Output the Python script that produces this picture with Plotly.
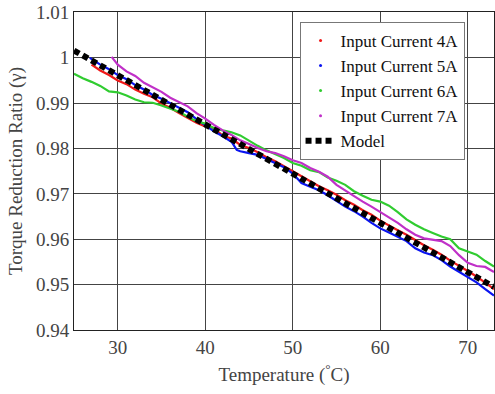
import plotly.graph_objects as go

# ---- data ----
model_T = [25, 30, 35, 40, 45, 50, 55, 60, 65, 70, 73]
model_V = [1.0016, 0.9962, 0.9908, 0.9853, 0.9799, 0.9745, 0.9691, 0.9637, 0.9582, 0.9528, 0.9495]

red_T = [27, 28, 29, 30, 31, 32, 33, 34, 35, 36, 37, 38, 39, 40, 41, 42, 43, 44, 45, 46, 47, 48, 49, 50,
         51, 52, 53, 54, 55, 56, 57, 58, 59, 60, 61, 62, 63, 64, 65, 66, 67, 68, 69, 70, 71, 72, 73]
red_V = [0.9985, 0.9972, 0.9962, 0.9950, 0.9942, 0.9930, 0.9921, 0.9913, 0.9899, 0.9890, 0.9878, 0.9868,
         0.9857, 0.9849, 0.9845, 0.9828, 0.9822, 0.9808, 0.9801, 0.9792, 0.9781, 0.9772, 0.9761, 0.9750,
         0.9738, 0.9728, 0.9717, 0.9708, 0.9698, 0.9686, 0.9676, 0.9664, 0.9654, 0.9641, 0.9630, 0.9620,
         0.9610, 0.9598, 0.9587, 0.9577, 0.9566, 0.9553, 0.9542, 0.9530, 0.9518, 0.9505, 0.9490]

blue_T = [26.8, 28, 29, 30, 31, 32, 33, 34, 35, 36, 37, 38, 39, 40, 41, 42, 43, 43.6, 44, 45, 46, 47, 48,
          49, 50, 51, 52, 53, 54, 55, 56, 57, 58, 59, 60, 61, 62, 63, 64, 65, 66, 67, 68, 69, 70, 71, 72, 73]
blue_V = [1.0000, 0.9985, 0.9975, 0.9962, 0.9953, 0.9940, 0.9930, 0.9918, 0.9910, 0.9900, 0.9890, 0.9880,
          0.9865, 0.9852, 0.9838, 0.9827, 0.9815, 0.9797, 0.9794, 0.9790, 0.9786, 0.9777, 0.9768, 0.9759,
          0.9745, 0.9724, 0.9716, 0.9708, 0.9697, 0.9684, 0.9672, 0.9662, 0.9650, 0.9636, 0.9624, 0.9615,
          0.9605, 0.9596, 0.9580, 0.9571, 0.9565, 0.9554, 0.9540, 0.9528, 0.9517, 0.9505, 0.9490, 0.9476]

green_T = [25, 26, 27, 28, 29, 30, 31, 32, 33, 34, 35, 36, 37, 38, 39, 40, 41, 42, 43, 44, 45, 46, 47, 48,
           49, 50, 51, 52, 53, 54, 55, 56, 57, 58, 59, 60, 61, 62, 63, 64, 65, 66, 67, 68, 69, 70, 71, 72, 73]
green_V = [0.9965, 0.9955, 0.9947, 0.9938, 0.9926, 0.9924, 0.9917, 0.9908, 0.9902, 0.9901, 0.9895, 0.9888,
           0.9881, 0.9870, 0.9860, 0.9855, 0.9845, 0.9840, 0.9836, 0.9829, 0.9817, 0.9806, 0.9796, 0.9787,
           0.9779, 0.9768, 0.9762, 0.9752, 0.9748, 0.9736, 0.9729, 0.9720, 0.9706, 0.9696, 0.9687, 0.9683,
           0.9674, 0.9660, 0.9644, 0.9632, 0.9622, 0.9614, 0.9606, 0.9600, 0.9580, 0.9573, 0.9566, 0.9552,
           0.9540]

mag_T = [29.3, 30, 31, 32, 33, 34, 35, 36, 37, 38, 39, 40, 41, 42, 43, 44, 45, 46, 47, 48, 49, 50, 51, 52,
         53, 54, 55, 56, 57, 58, 59, 60, 61, 62, 63, 64, 65, 66, 67, 68, 69, 70, 71, 72, 73]
mag_V = [1.0002, 0.9985, 0.9970, 0.9960, 0.9945, 0.9935, 0.9925, 0.9912, 0.9903, 0.9893, 0.9878, 0.9866,
         0.9852, 0.9840, 0.9830, 0.9818, 0.9810, 0.9801, 0.9794, 0.9790, 0.9783, 0.9774, 0.9768, 0.9757,
         0.9749, 0.9738, 0.9720, 0.9707, 0.9694, 0.9683, 0.9672, 0.9660, 0.9648, 0.9636, 0.9622, 0.9610,
         0.9602, 0.9599, 0.9596, 0.9585, 0.9565, 0.9548, 0.9541, 0.9539, 0.9528]

series_names = ["Input Current 4A", "Input Current 5A", "Input Current 6A", "Input Current 7A"]
x_ticks = [30, 40, 50, 60, 70]
y_ticks = [0.94, 0.95, 0.96, 0.97, 0.98, 0.99, 1.0, 1.01]
y_tick_labels = ["0.94", "0.95", "0.96", "0.97", "0.98", "0.99", "1", "1.01"]

colors = ["#f01818", "#0a14f0", "#30cc30", "#c030c8"]
serif = "Liberation Serif"

fig = go.Figure()
for name, xs, ys, c in zip(series_names, [red_T, blue_T, green_T, mag_T],
                           [red_V, blue_V, green_V, mag_V], colors):
    fig.add_trace(go.Scatter(x=xs, y=ys, mode="lines", line=dict(color=c, width=2.2),
                             showlegend=False, hoverinfo="skip"))
    fig.add_trace(go.Scatter(x=[None], y=[None], mode="markers", name=name,
                             marker=dict(color=c, size=3)))

fig.add_trace(go.Scatter(x=model_T, y=model_V, mode="lines", name="Model",
                         line=dict(color="black", width=6, dash="6px,4px")))

fig.update_layout(
    width=495, height=394,
    margin=dict(l=74, r=1, t=12, b=64),
    paper_bgcolor="white", plot_bgcolor="white",
    font=dict(family=serif, size=19, color="#333333"),
    legend=dict(x=0.537, y=0.969, xanchor="left", yanchor="top",
                bgcolor="white", bordercolor="#777777", borderwidth=1,
                font=dict(family=serif, size=17, color="#111111"),
                tracegroupgap=0, itemwidth=30),
    xaxis=dict(range=[25, 73], tickvals=x_ticks, showgrid=True, gridcolor="#444444", gridwidth=1,
               showline=True, linecolor="#222222", linewidth=1, mirror=True, zeroline=False,
               ticks="", tickfont=dict(family=serif, size=19, color="#444444"),
               title=dict(text="Temperature (<sup>°</sup>C)", font=dict(family=serif, size=19, color="#444444"),
                          standoff=10)),
    yaxis=dict(range=[0.94, 1.0101], tickvals=y_ticks, ticktext=y_tick_labels, showgrid=True,
               gridcolor="#444444", gridwidth=1, showline=True, linecolor="#222222", linewidth=1,
               mirror=True, zeroline=False, ticks="", tickfont=dict(family=serif, size=19, color="#444444"),
               ticklabeloverflow="allow",
               title=dict(text="Torque Reduction Ratio (γ)", font=dict(family=serif, size=19, color="#444444"),
                          standoff=8)),
)

fig.write_html("out.html", config={"displayModeBar": False},
               post_script="document.body.style.margin='0';document.body.style.overflow='hidden';")
